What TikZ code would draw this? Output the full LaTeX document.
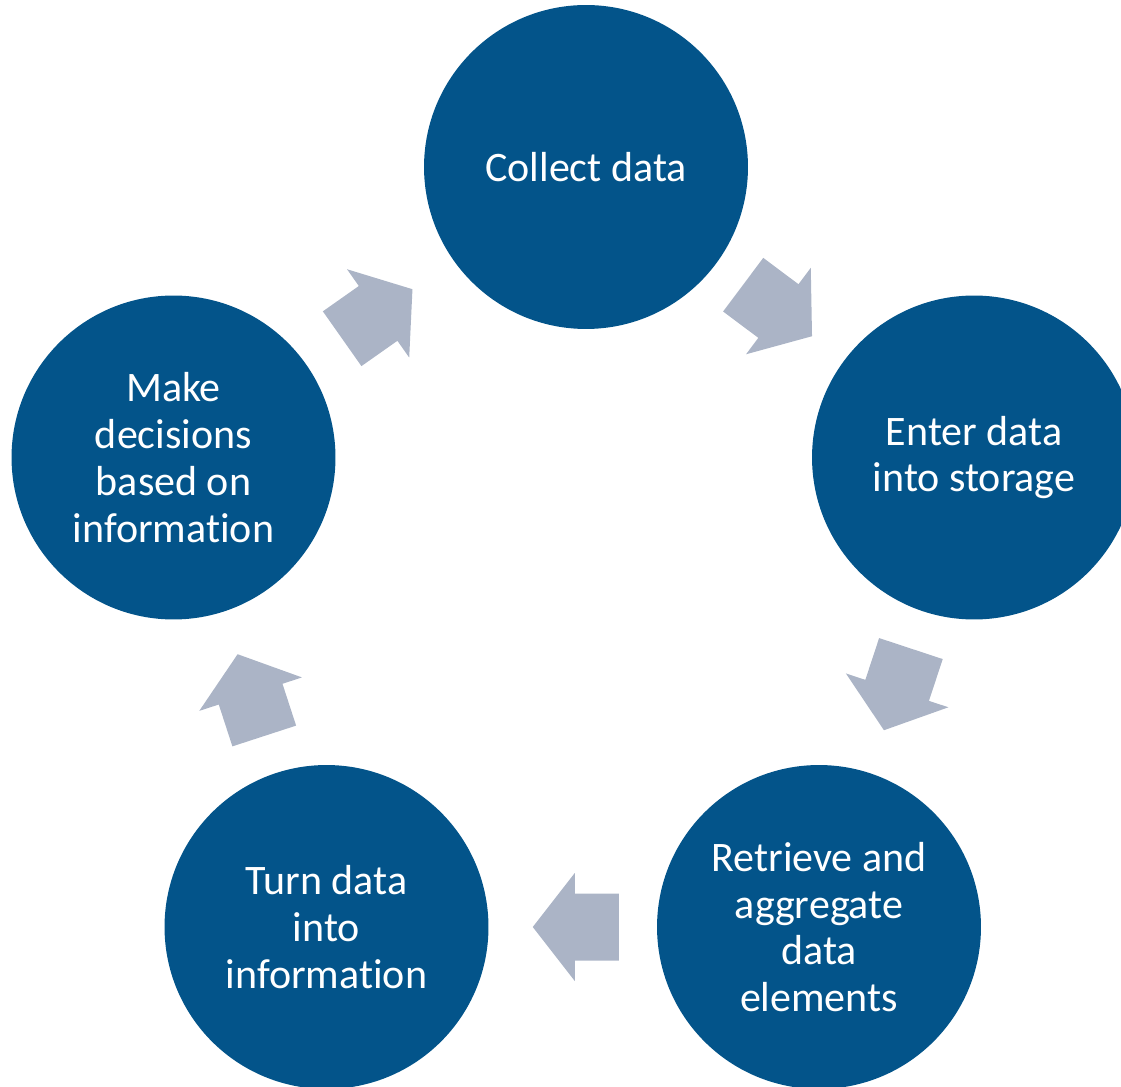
\documentclass[tikz,border=0pt]{standalone}
\usepackage{fontspec}
\setmainfont{Carlito}[Ligatures={NoCommon,NoRare}, RawFeature=-liga]
\usetikzlibrary{calc}

\definecolor{stageblue}{HTML}{03548A}
\definecolor{arrowgray}{HTML}{ABB4C6}

\tikzset{
  stage/.style={circle, fill=stageblue, text=white, minimum size=6.48cm,
    inner sep=0pt, align=center, font=\fontsize{23.9}{26.6}\selectfont},
  cyclearrowfill/.style={fill=arrowgray}
}

% Mui ten khoi nam giua hai buoc, quay theo huong noi hai tam
\newcommand{\cyclearrow}[2]{%
  \path let \p1 = ($(#2)-(#1)$), \n1 = {atan2(\y1,\x1)} in
    \pgfextra{\xdef\arrowangle{\n1}};
  \begin{scope}[shift={($(#1)!0.5!(#2)$)}, rotate=\arrowangle]
    \fill[cyclearrowfill] (-46,-33.5) -- (-2,-33.5) -- (-2,-54) -- (40,0)
      -- (-2,54) -- (-2,33.5) -- (-46,33.5) -- cycle;
  \end{scope}
}

\begin{document}
\begin{tikzpicture}[x=0.02cm, y=0.02cm]
  % Khung hinh
  \useasboundingbox (0,0) rectangle (1121,1086);
  \clip (0,0) rectangle (1121,1086);

  % 1. Cac buoc cua chu trinh
  \node[stage] (collect) at (586,919) {Collect data};
  \node[stage] (enter) at (974,628.5) {Enter data\\into storage};
  \node[stage] (retrieve) at (819,159) {Retrieve and\\aggregate\\data\\elements};
  \node[stage] (turn) at (326.5,159) {Turn data\\into\\information};
  \node[stage] (decide) at (173.5,628.5) {Make\\decisions\\based on\\information};

  % 2. Mui ten giua cac buoc (theo chieu kim dong ho)
  \cyclearrow{collect}{enter}
  \cyclearrow{enter}{retrieve}
  \cyclearrow{retrieve}{turn}
  \cyclearrow{turn}{decide}
  \cyclearrow{decide}{collect}
\end{tikzpicture}
\end{document}
